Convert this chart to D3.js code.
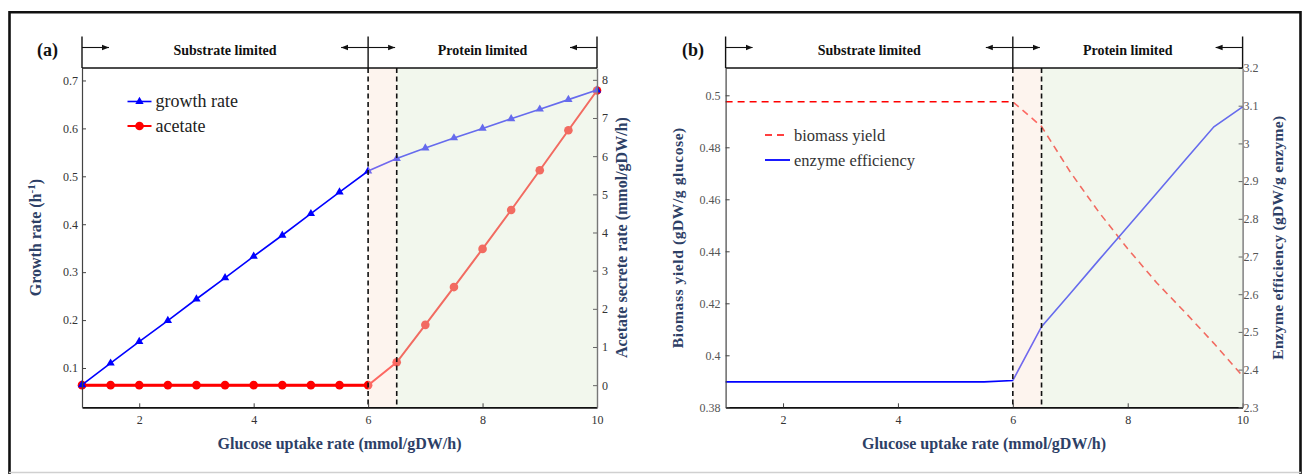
<!DOCTYPE html>
<html><head><meta charset="utf-8">
<script src="https://cdn.jsdelivr.net/npm/d3@7"></script>
<style>
body{margin:0;background:#fff}
svg{display:block}
text{font-family:"Liberation Serif","DejaVu Serif","Times New Roman",serif}
</style>
</head><body>
<svg id="c" width="1308" height="474"></svg>
<script>
// ---------- data ----------
const glucose = [1,1.5,2,2.5,3,3.5,4,4.5,5,5.5,6,6.5,7,7.5,8,8.5,9,9.5,10];
const growthRate = [0.065,0.110,0.155,0.199,0.244,0.288,0.333,0.377,0.422,0.467,0.511,0.537,0.559,0.580,0.600,0.620,0.640,0.660,0.680];
const acetateRate = [0,0,0,0,0,0,0,0,0,0,0,0.60,1.58,2.57,3.57,4.59,5.63,6.68,7.72];
const biomassYield = [0.4975,0.4975,0.4975,0.4975,0.4975,0.4975,0.4975,0.4975,0.4975,0.4975,0.4975,0.488,0.4705,0.455,0.441,0.428,0.4165,0.4046,0.392];
const enzymeEfficiency = [2.3675,2.3675,2.3675,2.3675,2.3675,2.3675,2.3675,2.3675,2.3675,2.3675,2.371,2.514,2.602,2.691,2.779,2.867,2.956,3.044,3.097];
const xTicks = [2,4,6,8,10];
const growthTicks = [0.1,0.2,0.3,0.4,0.5,0.6,0.7];
const acetateTicks = [0,1,2,3,4,5,6,7,8];
const yieldTicks = [0.38,0.4,0.42,0.44,0.46,0.48,0.5];
const efficiencyTicks = [2.3,2.4,2.5,2.6,2.7,2.8,2.9,3,3.1,3.2];
const regionBounds = [1, 6, 6.5, 10];
const regionLabels = ["Substrate limited", "Protein limited"];
const panelLabels = ["(a)", "(b)"];
const legendA = ["growth rate", "acetate"];
const legendB = ["biomass yield", "enzyme efficiency"];
const xTitle = "Glucose uptake rate (mmol/gDW/h)";

const svg = d3.select("#c");
const titleColor = "#2d4066";
const serif = "Liberation Serif";

// outer frame
svg.append("path").attr("d","M9.5,474 V12.2 H1300.5 V474").attr("fill","none").attr("stroke","#111").attr("stroke-width",2.6);
svg.append("line").attr("x1",9).attr("x2",1301).attr("y1",472.5).attr("y2",472.5).attr("stroke","#d0d0d0").attr("stroke-width",1.5);

const defs = svg.append("defs");
defs.append("marker").attr("id","ah").attr("viewBox","0 0 10 10").attr("refX",10).attr("refY",5)
  .attr("markerWidth",7).attr("markerHeight",7).attr("markerUnits","userSpaceOnUse").attr("orient","auto")
  .append("path").attr("d","M0,1 L10,5 L0,9 Z").attr("fill","#111");

function panel(cfg){
  const g = svg.append("g");
  const x = d3.scaleLinear().domain([1,10]).range(cfg.xr);
  const yL = d3.scaleLinear().domain(cfg.yLd).range([407.3,68]);
  const yR = d3.scaleLinear().domain(cfg.yRd).range([407.3,68]);
  const top = 68, bot = 407.3, htop = 36.5;

  // series (drawn below the translucent shading)
  cfg.series(g, x, yL, yR);

  // shading overlays
  g.append("rect").attr("x",x(regionBounds[1])).attr("y",top).attr("width",x(regionBounds[2])-x(regionBounds[1])).attr("height",bot-top)
    .attr("fill","rgb(250,230,217)").attr("fill-opacity",0.45);
  g.append("rect").attr("x",x(regionBounds[2])).attr("y",top).attr("width",x(regionBounds[3])-x(regionBounds[2])).attr("height",bot-top)
    .attr("fill","rgb(226,237,215)").attr("fill-opacity",0.45);

  // dashed boundaries
  [regionBounds[1], regionBounds[2]].forEach(v=>{
    g.append("line").attr("x1",x(v)).attr("x2",x(v)).attr("y1",top).attr("y2",bot)
      .attr("stroke","#111").attr("stroke-width",1.6).attr("stroke-dasharray","5,3.5");
  });

  // axes
  const ax = g.append("g").attr("transform",`translate(0,${bot})`)
    .call(d3.axisBottom(x).tickValues(xTicks).tickSizeInner(-4).tickSizeOuter(0).tickPadding(8).tickFormat(d3.format("~g")));
  ax.attr("font-family",serif);
  ax.select(".domain").attr("stroke","#111").attr("stroke-width",1.8);
  ax.selectAll(".tick line").attr("stroke","#444");
  ax.selectAll("text").attr("font-size",12).attr("fill","#333");

  const al = g.append("g").attr("transform",`translate(${cfg.xr[0]},0)`)
    .call(d3.axisLeft(yL).tickValues(cfg.yLt).tickSizeInner(-4).tickSizeOuter(0).tickPadding(cfg.padL).tickFormat(d3.format("~g")));
  al.attr("font-family",serif);
  al.select(".domain").attr("stroke","#444").attr("stroke-width",1.2);
  al.selectAll(".tick line").attr("stroke","#444");
  al.selectAll("text").attr("font-size",12).attr("fill",cfg.tickColor);

  const ar = g.append("g").attr("transform",`translate(${cfg.xr[1]},0)`)
    .call(d3.axisRight(yR).tickValues(cfg.yRt).tickSizeInner(-4).tickSizeOuter(0).tickPadding(cfg.padR).tickFormat(d3.format("~g")));
  ar.attr("font-family",serif);
  ar.select(".domain").attr("stroke","#777").attr("stroke-width",1.4);
  ar.selectAll(".tick line").attr("stroke","#666");
  ar.selectAll("text").attr("font-size",12).attr("fill",cfg.tickColor);

  // header box
  g.append("line").attr("x1",cfg.xr[0]).attr("x2",cfg.xr[1]).attr("y1",top).attr("y2",top).attr("stroke","#111").attr("stroke-width",1.6);
  [regionBounds[0],regionBounds[1],regionBounds[3]].forEach(v=>{
    g.append("line").attr("x1",x(v)).attr("x2",x(v)).attr("y1",htop).attr("y2",top).attr("stroke","#111").attr("stroke-width",1.4);
  });
  const ay = 47.5, alen = 27;
  const arrows = [[x(regionBounds[0]), x(regionBounds[0])+alen],[x(regionBounds[1]), x(regionBounds[1])-alen],
                  [x(regionBounds[1]), x(regionBounds[1])+alen],[x(regionBounds[3]), x(regionBounds[3])-alen]];
  arrows.forEach(([a,b])=>{
    g.append("line").attr("x1",a).attr("x2",b).attr("y1",ay).attr("y2",ay).attr("stroke","#111").attr("stroke-width",1.1).attr("marker-end","url(#ah)");
  });
  regionLabels.forEach((t,i)=>{
    g.append("text").attr("x",(x(regionBounds[i===0?0:1])+x(regionBounds[i===0?1:3]))/2).attr("y",54.5)
      .attr("text-anchor","middle").attr("font-size",14).attr("font-weight","bold").attr("fill","#111").text(t);
  });
  g.append("text").attr("x",cfg.labelX).attr("y",56).attr("text-anchor","middle").attr("font-size",18).attr("font-weight","bold").attr("fill","#111").text(cfg.label);

  // titles
  const mid = (top+bot)/2;
  g.append("text").attr("x",(cfg.xr[0]+cfg.xr[1])/2).attr("y",448.5).attr("text-anchor","middle")
    .attr("font-size",16).attr("font-weight","bold").attr("fill",titleColor).text(xTitle);
  const lt = g.append("text").attr("transform",`translate(${cfg.tLx},${mid}) rotate(-90)`).attr("text-anchor","middle")
    .attr("font-size",cfg.tfs).attr("font-weight","bold").attr("fill",titleColor).attr("letter-spacing",cfg.lsL);
  cfg.titleL(lt);
  g.append("text").attr("transform",`translate(${cfg.tRx},${mid}) rotate(-90)`).attr("text-anchor","middle")
    .attr("font-size",cfg.tfs).attr("font-weight","bold").attr("fill",titleColor).attr("letter-spacing",cfg.lsR).text(cfg.titleR);

  cfg.legend(g);
}

// ---------- panel (a) ----------
panel({
  xr:[82,597], yLd:[0.018,0.726], yRd:[-0.58,8.31], yLt:growthTicks, yRt:acetateTicks,
  padL:4, padR:5, tickColor:"#333", label:panelLabels[0], labelX:47.5,
  tLx:41, tRx:627, lsL:0, lsR:0, tfs:16,
  titleL:t=>{ t.append("tspan").text("Growth rate (h"); t.append("tspan").attr("dy",-6).attr("font-size",11).text("-1"); t.append("tspan").attr("dy",6).text(")"); },
  titleR:"Acetate secrete rate (mmol/gDW/h)",
  series:(g,x,yL,yR)=>{
    const pts = glucose.map((v,i)=>({x:v, g:growthRate[i], a:acetateRate[i]}));
    g.append("path").datum(pts).attr("fill","none").attr("stroke","#ff0000").attr("stroke-width",2)
      .attr("d",d3.line().x(d=>x(d.x)).y(d=>yR(d.a)));
    g.append("path").datum(pts.filter(d=>d.a===0)).attr("fill","none").attr("stroke","#ff0000").attr("stroke-width",3)
      .attr("d",d3.line().x(d=>x(d.x)).y(d=>yR(d.a)));
    g.selectAll(".ac").data(pts).enter().append("circle").attr("cx",d=>x(d.x)).attr("cy",d=>yR(d.a)).attr("r",4.3).attr("fill","#ff0000");
    g.append("path").datum(pts).attr("fill","none").attr("stroke","#0000ff").attr("stroke-width",1.6)
      .attr("d",d3.line().x(d=>x(d.x)).y(d=>yL(d.g)));
    g.selectAll(".gr").data(pts).enter().append("path").attr("transform",d=>`translate(${x(d.x)},${yL(d.g)})`)
      .attr("d",d3.symbol().type(d3.symbolTriangle).size(30)).attr("fill","#0000ff");
  },
  legend:g=>{
    g.append("line").attr("x1",127.5).attr("x2",151.5).attr("y1",101.5).attr("y2",101.5).attr("stroke","#0000ff").attr("stroke-width",1.6);
    g.append("path").attr("transform","translate(139.5,101.5)").attr("d",d3.symbol().type(d3.symbolTriangle).size(30)).attr("fill","#0000ff");
    g.append("text").attr("x",155.5).attr("y",107).attr("font-size",18).attr("fill","#222").text(legendA[0]);
    g.append("line").attr("x1",127.5).attr("x2",151.5).attr("y1",126).attr("y2",126).attr("stroke","#ff0000").attr("stroke-width",2);
    g.append("circle").attr("cx",139.5).attr("cy",126).attr("r",4.3).attr("fill","#ff0000");
    g.append("text").attr("x",155.5).attr("y",131.5).attr("font-size",18).attr("fill","#222").text(legendA[1]);
  }
});

// ---------- panel (b) ----------
panel({
  xr:[725.6,1242.6], yLd:[0.38,0.5105], yRd:[2.3,3.2], yLt:yieldTicks, yRt:efficiencyTicks,
  padL:5, padR:1, tickColor:"#555", label:panelLabels[1], labelX:693,
  tLx:683, tRx:1283, lsL:0.6, lsR:0.3, tfs:15.5,
  titleL:t=>t.text("Biomass yield (gDW/g glucose)"),
  titleR:"Enzyme efficiency (gDW/g enzyme)",
  series:(g,x,yL,yR)=>{
    const pts = glucose.map((v,i)=>({x:v, b:biomassYield[i], e:enzymeEfficiency[i]}));
    g.append("path").datum(pts).attr("fill","none").attr("stroke","#ff0000").attr("stroke-width",1.6).attr("stroke-dasharray","7,5")
      .attr("d",d3.line().x(d=>x(d.x)).y(d=>yL(d.b)));
    g.append("path").datum(pts).attr("fill","none").attr("stroke","#0000ff").attr("stroke-width",1.6)
      .attr("d",d3.line().x(d=>x(d.x)).y(d=>yR(d.e)));
  },
  legend:g=>{
    g.append("line").attr("x1",765).attr("x2",788).attr("y1",135).attr("y2",135).attr("stroke","#ff0000").attr("stroke-width",1.6).attr("stroke-dasharray","7,5");
    g.append("text").attr("x",794).attr("y",140.5).attr("font-size",16.5).attr("fill","#333").text(legendB[0]);
    g.append("line").attr("x1",765).attr("x2",790).attr("y1",160).attr("y2",160).attr("stroke","#0000ff").attr("stroke-width",1.8);
    g.append("text").attr("x",794).attr("y",165.5).attr("font-size",16.5).attr("fill","#333").text(legendB[1]);
  }
});
</script>
</body></html>
